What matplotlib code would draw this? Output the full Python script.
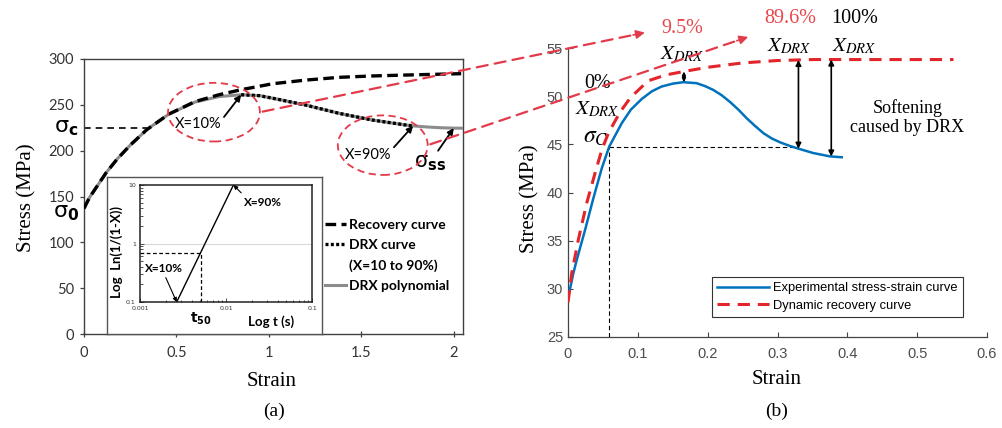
import numpy as np
import matplotlib
matplotlib.use("Agg")
import matplotlib.pyplot as plt
from matplotlib.patches import Ellipse, FancyArrowPatch
from matplotlib.lines import Line2D
from matplotlib.transforms import IdentityTransform, blended_transform_factory

# ---------------- (a) flow curves ----------------
poly_strain = [0, 0.03, 0.07, 0.12, 0.18, 0.25, 0.34, 0.46, 0.60, 0.73, 0.85, 0.95,
               1.05, 1.20, 1.38, 1.56, 1.74, 1.78, 1.86, 1.93, 2.00, 2.04]
poly_stress = [137, 149, 161, 176, 191, 206, 223, 240, 253, 259, 261, 260,
               256, 249.7, 240.7, 233.4, 228, 227, 225.8, 225, 224.6, 224.5]
rec_strain = [0, 0.03, 0.07, 0.12, 0.18, 0.25, 0.34, 0.46, 0.60, 0.73, 0.85, 1.02,
              1.20, 1.38, 1.56, 1.74, 1.90, 2.04]
rec_stress = [137, 149, 161, 176, 191, 206, 223, 240, 253.5, 261, 266.5, 273,
              277, 280, 281.5, 282.5, 283.3, 284]
drx_window = (0.85, 1.78)          # X = 10 % ... 90 %
sigma_c_a = 224.3
sigma_c_strain_a = 0.34
sigma_0_a = 137

# inset: Avrami plot
t_x10, t_x90 = 0.00267, 0.0122
ln_x10, ln_x90 = 0.1, 10
t_50, ln_50 = 0.00506, 0.693

# ---------------- (b) measured vs. recovery ----------------
exp_strain = [0, 0.0076, 0.0125, 0.0244, 0.0363, 0.0483, 0.059, 0.077, 0.09, 0.1055,
              0.12, 0.134, 0.150, 0.165, 0.184, 0.196, 0.208, 0.22, 0.232, 0.244,
              0.256, 0.268, 0.28, 0.292, 0.304, 0.317, 0.33, 0.351, 0.375, 0.392]
exp_stress = [29.0, 31.6, 33.0, 36.1, 39.4, 42.5, 44.76, 47.2, 48.6, 49.7,
              50.5, 51.0, 51.3, 51.45, 51.35, 51.05, 50.65, 50.1, 49.4, 48.6,
              47.7, 46.9, 46.15, 45.6, 45.2, 44.85, 44.55, 44.1, 43.75, 43.66]
drv_strain = [0, 0.0053, 0.0148, 0.0268, 0.0387, 0.0483, 0.058, 0.075, 0.09, 0.115,
              0.14, 0.165, 0.2, 0.25, 0.3, 0.35, 0.45, 0.552]
drv_stress = [28.6, 31.6, 35.1, 38.9, 42.0, 44.4, 46.2, 48.4, 49.9, 51.6,
              52.2, 52.55, 53.0, 53.45, 53.7, 53.8, 53.8, 53.8]
eps_c_b, sig_c_b = 0.059, 44.7
softening_strain = [0.166, 0.330, 0.377]   # where the recovery-experiment gap is shown
xdrx_labels = ["9.5%", "0%", "89.6%", "100%"]

# ---------------- styling ----------------
W, H = 1002, 428
RED = "#e3242b"
PINK = "#e33a4a"
BLUE = "#0072BD"
SERIF = "Liberation Serif"
SANS = "Lato"


def rect(l, t, r, b):
    return [l / W, 1 - b / H, (r - l) / W, (b - t) / H]


fig = plt.figure(figsize=(W / 100, H / 100), dpi=100)

# ======================= panel (a) =======================
ax1 = fig.add_axes(rect(84, 59, 463, 334))
ps = np.array(poly_strain)
pst = np.array(poly_stress)
ax1.plot(ps, pst, color="#8c8c8c", lw=2.2, zorder=2)
ax1.plot(rec_strain, rec_stress, color="black", lw=2.4, dashes=(3.2, 1.6), zorder=3)
m = (ps >= drx_window[0]) & (ps <= drx_window[1])
ax1.plot(ps[m], pst[m], color="black", lw=2.4, dashes=(0.9, 0.7), zorder=4)
ax1.plot([0, sigma_c_strain_a], [sigma_c_a, sigma_c_a], color="black", lw=1.2,
         dashes=(4, 3), zorder=1)

ax1.set_xlim(0, 2.05)
ax1.set_ylim(0, 300)
ax1.set_xticks([0, 0.5, 1, 1.5, 2], ["0", "0.5", "1", "1.5", "2"])
ax1.set_yticks(range(0, 301, 50))
ax1.tick_params(axis="x", direction="inout", length=5, width=0.9, color="#404040",
                labelsize=10.5, labelcolor="#333333", pad=6)
ax1.tick_params(axis="y", direction="out", length=3, width=0.9, color="#404040",
                labelsize=10.5, labelcolor="#333333", pad=4)
for lab in ax1.get_xticklabels() + ax1.get_yticklabels():
    lab.set_family(SANS)
for sp in ax1.spines.values():
    sp.set_color("#404040")
    sp.set_linewidth(1.0)

ax1.set_xlabel("Strain", family=SERIF, size=15)
ax1.xaxis.set_label_coords(0.496, -0.14)
ax1.set_ylabel("Stress (MPa)", family=SERIF, size=15)
ax1.yaxis.set_label_coords(-0.125, 0.495)

ax1.text(-0.095, sigma_c_a, r"$\mathrm{\sigma}_\mathbf{c}$", size=16, ha="center",
         va="center", math_fontfamily="dejavusans", clip_on=False)
ax1.text(-0.095, sigma_0_a - 5, r"$\mathrm{\sigma}_\mathbf{0}$", size=16, ha="center",
         va="center", math_fontfamily="dejavusans", clip_on=False)

i_peak = int(np.argmax(pst))
i_x90 = poly_strain.index(drx_window[1])
i_ss = poly_strain.index(2.00)
arrow_kw = dict(arrowstyle="-|>", color="black", lw=1.3, mutation_scale=9,
                shrinkA=0, shrinkB=0)
ax1.annotate("X=10%", xy=(ps[i_peak], pst[i_peak]), xytext=(0.49, 229),
             ha="left", va="center", family=SANS, size=10.5,
             arrowprops=dict(relpos=(1.0, 0.75), **arrow_kw))
ax1.annotate("X=90%", xy=(ps[i_x90], pst[i_x90]), xytext=(1.41, 195),
             ha="left", va="center", family=SANS, size=10.5,
             arrowprops=dict(relpos=(1.0, 0.85), **arrow_kw))
ax1.annotate(r"$\mathrm{\sigma}_\mathbf{ss}$", xy=(ps[i_ss], pst[i_ss]),
             xytext=(1.87, 186), ha="center", va="center", size=15,
             math_fontfamily="dejavusans",
             arrowprops=dict(relpos=(0.7, 1.0), **arrow_kw))

ell1 = Ellipse((0.703, 242), 0.497, 64, fill=False, ec=PINK, lw=1.3,
               ls=(0, (4, 2.5)), zorder=5, clip_on=False)
ell2 = Ellipse((1.616, 206), 0.486, 65, fill=False, ec=PINK, lw=1.3,
               ls=(0, (4, 2.5)), zorder=5, clip_on=False)
ax1.add_patch(ell1)
ax1.add_patch(ell2)

leg_handles = [Line2D([], [], color="black", lw=2.4, dashes=(3.2, 1.6)),
               Line2D([], [], color="black", lw=2.4, dashes=(0.9, 0.7)),
               Line2D([], [], alpha=0),
               Line2D([], [], color="#8c8c8c", lw=2.2)]
leg_labels = ["Recovery curve", "DRX curve", "(X=10 to 90%)", "DRX polynomial"]
ax1.legend(leg_handles, leg_labels, loc="upper left", bbox_to_anchor=(0.636, 0.418),
           frameon=False, prop=dict(family=SANS, weight="bold", size=10),
           handlelength=1.5, handletextpad=0.25, labelspacing=0.58,
           borderpad=0, borderaxespad=0)

# inset frame + Avrami plot
frame = fig.add_axes(rect(107, 177, 322, 334))
frame.set_xticks([])
frame.set_yticks([])
frame.set_facecolor("white")
for sp in frame.spines.values():
    sp.set_color("#555555")
    sp.set_linewidth(1.0)

ax3 = fig.add_axes(rect(140, 185, 312, 302))
ax3.set_xscale("log")
ax3.set_yscale("log")
ax3.set_xlim(0.001, 0.1)
ax3.set_ylim(0.1, 10)
ax3.axhline(1, color="#d9d9d9", lw=0.8, zorder=0)
ax3.plot([t_x10, t_x90], [ln_x10, ln_x90], color="black", lw=1.0)
ax3.plot([0.001, t_50], [ln_50, ln_50], color="black", lw=0.9, dashes=(3, 2))
ax3.plot([t_50, t_50], [0.1, ln_50], color="black", lw=0.9, dashes=(3, 2))
ax3.set_xticks([0.001, 0.01, 0.1], ["0.001", "0.01", "0.1"])
ax3.set_yticks([0.1, 1, 10], ["0.1", "1", "10"])
ax3.tick_params(which="both", direction="in", labelsize=4.5, width=0.6,
                color="#333333", labelcolor="#333333", pad=3)
ax3.tick_params(which="major", length=3)
ax3.tick_params(which="minor", length=1.8)
for sp in ax3.spines.values():
    sp.set_color("#222222")
    sp.set_linewidth(1.1)
ax3.set_xlabel("Log t (s)", family=SANS, weight="bold", size=9.5)
ax3.xaxis.set_label_coords(0.76, -0.11)
ax3.set_ylabel("Log  Ln(1/(1-X))", family=SANS, weight="bold", size=9.5)
ax3.yaxis.set_label_coords(-0.1, 0.43)
ax3.text(t_50, -0.14, r"$\mathbf{t}_\mathbf{50}$", size=10,
         transform=blended_transform_factory(ax3.transData, ax3.transAxes),
         ha="center", va="center", math_fontfamily="dejavusans")
small_arrow = dict(arrowstyle="-|>", color="black", lw=0.8, mutation_scale=6,
                   shrinkA=1, shrinkB=0)
ax3.annotate("X=10%", xy=(t_x10, ln_x10), xytext=(0.0019, 0.38), ha="center",
             va="center", family=SANS, weight="bold", size=8.5,
             arrowprops=dict(relpos=(0.5, 0.0), **small_arrow))
ax3.annotate("X=90%", xy=(t_x90, ln_x90), xytext=(0.027, 5.1), ha="center",
             va="center", family=SANS, weight="bold", size=8.5,
             arrowprops=dict(relpos=(0.05, 0.9), **small_arrow))

# ======================= panel (b) =======================
ax2 = fig.add_axes(rect(568, 48, 987, 337))
ax2.plot(exp_strain, exp_stress, color=BLUE, lw=1.8, zorder=3,
         label="Experimental stress-strain curve")
ax2.plot(drv_strain, drv_stress, color=RED, lw=2.2, dashes=(4, 2.6), zorder=4,
         label="Dynamic recovery curve")
ax2.plot([eps_c_b, eps_c_b], [25, sig_c_b], color="black", lw=0.8, dashes=(4, 2.5),
         zorder=2)
ax2.plot([eps_c_b, softening_strain[1]], [sig_c_b, sig_c_b], color="black", lw=0.8,
         dashes=(4, 2.5), zorder=2)
ax2.set_xlim(0, 0.6)
ax2.set_ylim(25, 55)
ax2.set_xticks(np.arange(0, 0.61, 0.1), ["0", "0.1", "0.2", "0.3", "0.4", "0.5", "0.6"])
ax2.set_yticks(range(25, 56, 5))
ax2.tick_params(direction="in", length=3.5, width=0.8, color="#444444",
                labelsize=10.5, labelcolor="#4d4d4d")
ax2.tick_params(axis="x", pad=7)
for lab in ax2.get_xticklabels() + ax2.get_yticklabels():
    lab.set_family("Liberation Sans")
ax2.spines["top"].set_visible(False)
ax2.spines["right"].set_visible(False)
for s in ("left", "bottom"):
    ax2.spines[s].set_color("#444444")
    ax2.spines[s].set_linewidth(0.9)
ax2.set_xlabel("Strain", family=SERIF, size=15)
ax2.xaxis.set_label_coords(0.499, -0.115)
ax2.set_ylabel("Stress (MPa)", family=SERIF, size=15)
ax2.yaxis.set_label_coords(-0.068, 0.477)

for x in softening_strain:
    lo = np.interp(x, exp_strain, exp_stress)
    hi = np.interp(x, drv_strain, drv_stress)
    ms = 5 if hi - lo < 2 else 8
    ax2.annotate("", xy=(x, hi), xytext=(x, lo),
                 arrowprops=dict(arrowstyle="<|-|>", color="black", lw=1.2,
                                 mutation_scale=ms, shrinkA=0, shrinkB=0), zorder=5)

pct_pos = [(0.163, 57.0), (0.043, 51.3), (0.318, 58.1), (0.411, 58.1)]
pct_col = ["#e8454a", "black", "#e8454a", "black"]
for txt, (x, y), c in zip(xdrx_labels, pct_pos, pct_col):
    ax2.text(x, y, txt, family=SERIF, size=14.5, color=c, ha="center", va="center",
             clip_on=False)
for x, y in [(0.163, 54.4), (0.0415, 48.7), (0.317, 55.2), (0.41, 55.2)]:
    ax2.text(x, y, r"$X_{DRX}$", size=15, ha="center", va="center",
             math_fontfamily="stix", clip_on=False)
ax2.text(0.040, 45.9, r"$\sigma_C$", size=17, ha="center", va="center",
         math_fontfamily="stix")
ax2.text(0.486, 47.8, "Softening\ncaused by DRX", family=SERIF, size=13,
         ha="center", va="center", linespacing=1.15)

ax2.legend(loc="upper left", bbox_to_anchor=(0.344, 0.208), frameon=True,
           fancybox=False, edgecolor="#333333", framealpha=1,
           prop=dict(family="Liberation Sans", size=9.3), handlelength=4.0,
           handletextpad=0.35, labelspacing=0.45, borderpad=0.4, borderaxespad=0)
ax2.get_legend().get_frame().set_linewidth(0.8)

# ======================= connectors & captions =======================
fig.text(274 / W, 1 - 411 / H, "(a)", family=SERIF, size=14, ha="center", va="center")
fig.text(777 / W, 1 - 411 / H, "(b)", family=SERIF, size=14, ha="center", va="center")

connectors = [((ell1.center[0] + ell1.width / 2, ell1.center[1]), (0.110, 56.6)),
              ((ell2.center[0] + ell2.width / 2, ell2.center[1]), (0.258, 56.15))]
for start, end in connectors:
    pa = ax1.transData.transform(start)
    pb = ax2.transData.transform(end)
    d = pb - pa
    back = pb - d / np.hypot(*d) * 12
    fig.add_artist(FancyArrowPatch(pa, back, transform=IdentityTransform(),
                                   arrowstyle="-", color=PINK, lw=1.6,
                                   linestyle=(0, (5, 3.2)), zorder=10))
    fig.add_artist(FancyArrowPatch(back, pb, transform=IdentityTransform(),
                                   arrowstyle="-|>", color=PINK, lw=1.2,
                                   mutation_scale=13, shrinkA=0, shrinkB=0,
                                   zorder=10))

fig.savefig("out.png", dpi=100)
